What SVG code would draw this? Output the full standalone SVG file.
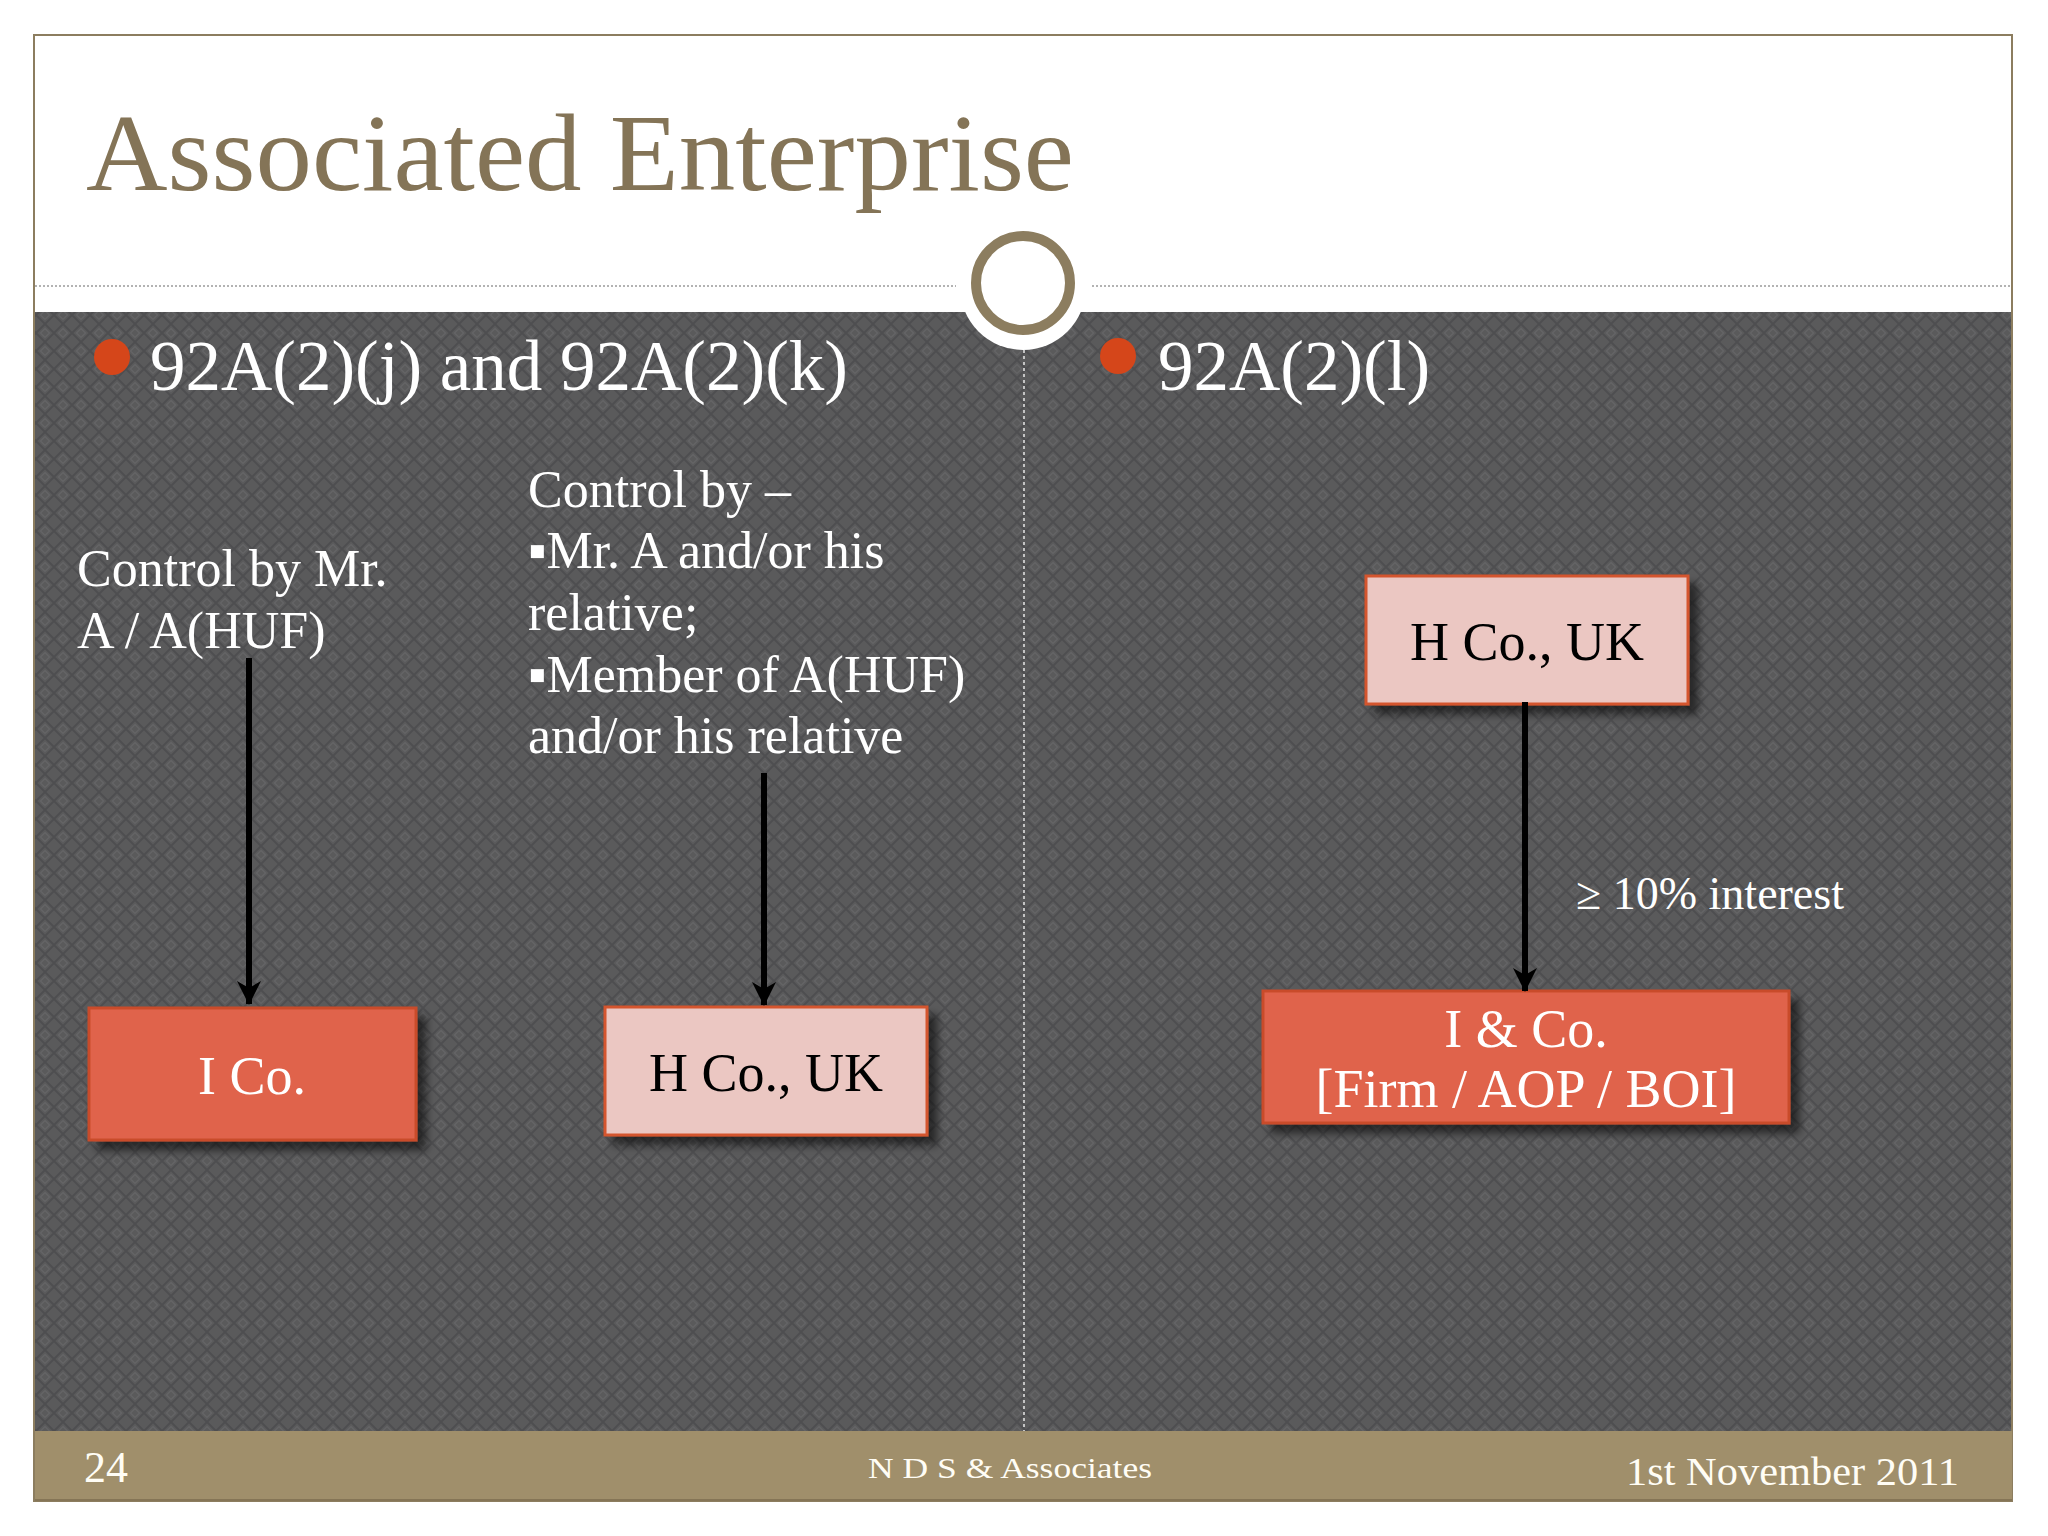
<svg xmlns="http://www.w3.org/2000/svg" width="2048" height="1536" viewBox="0 0 2048 1536">
  <defs>
    <pattern id="tex" x="0" y="0" width="18" height="18" patternUnits="userSpaceOnUse">
      <rect width="18" height="18" fill="#5A5A5B"/>
      <path d="M9,0 L18,9 L9,18 L0,9 Z" fill="none" stroke="#4E4E50" stroke-width="2"/>
      <path d="M9,4.5 L13.5,9 L9,13.5 L4.5,9 Z" fill="none" stroke="#646466" stroke-width="1.2"/>
    </pattern>
    <filter id="shadow" x="-10%" y="-10%" width="130%" height="130%">
      <feDropShadow dx="9" dy="9" stdDeviation="4" flood-color="#000" flood-opacity="0.55"/>
    </filter>
    <marker id="arrow" viewBox="0 0 24 24" refX="23" refY="12" markerWidth="24" markerHeight="24" markerUnits="userSpaceOnUse" orient="auto">
      <path d="M0,0 L24,12 L0,24 L7,12 Z" fill="#000"/>
    </marker>
    <style>
      .serif { font-family: "Liberation Serif", "Times New Roman", serif; }
      .head { font-size: 71px; fill: #FFFFFF; }
      .body { font-size: 52px; fill: #FFFFFF; }
      .boxtxt { font-size: 54px; text-anchor: middle; }
      .orange { fill: #E0644C; stroke: #C94C2A; stroke-width: 3; }
      .pink { fill: #EBC7C2; stroke: #D4552F; stroke-width: 3; }
      .foot { fill: #FFFDF5; }
      .conn { stroke: #000; stroke-width: 6; fill: none; marker-end: url(#arrow); }
    </style>
  </defs>

  <!-- page background -->
  <rect x="0" y="0" width="2048" height="1536" fill="#FFFFFF"/>

  <!-- slide frame -->
  <rect x="34" y="35" width="1978" height="1466" fill="#FFFFFF" stroke="#8C7D5F" stroke-width="2"/>

  <!-- dark textured band -->
  <rect x="35" y="312" width="1976" height="1119" fill="url(#tex)"/>

  <!-- footer band -->
  <rect x="35" y="1431" width="1977" height="70" fill="#A08F6B"/>
  <line x1="35" y1="1500" x2="2012" y2="1500" stroke="#857556" stroke-width="2"/>

  <!-- dotted separator lines -->
  <line x1="35" y1="286" x2="956" y2="286" stroke="#9A9A9A" stroke-width="1.5" stroke-dasharray="2 2"/>
  <line x1="1092" y1="286" x2="2011" y2="286" stroke="#9A9A9A" stroke-width="1.5" stroke-dasharray="2 2"/>
  <line x1="1024" y1="350" x2="1024" y2="1431" stroke="#E8E8E8" stroke-width="1.5" stroke-dasharray="3 3"/>

  <!-- ring ornament -->
  <circle cx="1023" cy="287" r="63" fill="#FFFFFF"/>
  <circle cx="1023" cy="283" r="47" fill="#FFFFFF" stroke="#8C7D5F" stroke-width="10"/>

  <!-- title -->
  <text class="serif" x="86" y="190" font-size="110" fill="#847457" textLength="988" lengthAdjust="spacingAndGlyphs">Associated Enterprise</text>

  <!-- section headings -->
  <circle cx="112" cy="357" r="18" fill="#D5461A"/>
  <text class="serif head" x="150" y="390">92A(2)(j) and 92A(2)(k)</text>
  <circle cx="1118" cy="356" r="18" fill="#D5461A"/>
  <text class="serif head" x="1158" y="390">92A(2)(l)</text>

  <!-- left labels -->
  <g id="label-control-a">
    <text class="serif body" x="77" y="586">Control by Mr.</text>
    <text class="serif body" x="77" y="648">A / A(HUF)</text>
  </g>
  <g id="label-control-list">
    <text class="serif body" x="528" y="507">Control by –</text>
    <text class="serif body" x="528" y="568">▪Mr. A and/or his</text>
    <text class="serif body" x="528" y="630">relative;</text>
    <text class="serif body" x="528" y="692">▪Member of A(HUF)</text>
    <text class="serif body" x="528" y="753">and/or his relative</text>
  </g>

  <!-- nodes -->
  <g id="node-ico">
    <rect class="orange" x="89" y="1008" width="327" height="132" filter="url(#shadow)"/>
    <text class="serif boxtxt" x="252" y="1094" fill="#FFFFFF">I Co.</text>
  </g>
  <g id="node-hco-left">
    <rect class="pink" x="605" y="1007" width="322" height="128" filter="url(#shadow)"/>
    <text class="serif boxtxt" x="766" y="1091" fill="#000000">H Co., UK</text>
  </g>
  <g id="node-hco-right">
    <rect class="pink" x="1366" y="576" width="322" height="128" filter="url(#shadow)"/>
    <text class="serif boxtxt" x="1527" y="660" fill="#000000">H Co., UK</text>
  </g>
  <g id="node-ifirm">
    <rect class="orange" x="1263" y="991" width="526" height="132" filter="url(#shadow)"/>
    <text class="serif boxtxt" x="1526" y="1047" font-size="57" fill="#FFFFFF">I &amp; Co.</text>
    <text class="serif boxtxt" x="1526" y="1107" font-size="57" fill="#FFFFFF">[Firm / AOP / BOI]</text>
  </g>

  <!-- connectors -->
  <g id="connectors">
    <line class="conn" x1="249" y1="658" x2="249" y2="1004"/>
    <line class="conn" x1="764" y1="773" x2="764" y2="1005"/>
    <line class="conn" x1="1525" y1="702" x2="1525" y2="991"/>
    <text class="serif" x="1576" y="909" font-size="46" fill="#FFFFFF">≥ 10% interest</text>
  </g>

  <!-- footer text -->
  <text class="serif foot" x="84" y="1482" font-size="44">24</text>
  <text class="serif foot" x="868" y="1478" font-size="30" textLength="284" lengthAdjust="spacingAndGlyphs">N D S &amp; Associates</text>
  <text class="serif foot" x="1626" y="1485" font-size="40" textLength="333" lengthAdjust="spacingAndGlyphs">1st November 2011</text>
</svg>
